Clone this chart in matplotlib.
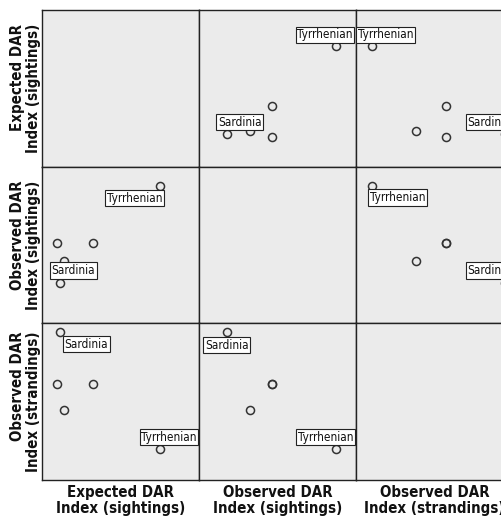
import matplotlib.pyplot as plt

# DAR index per region (only two regions carry a case label)
case_labels = ["Sardinia", "Tyrrhenian", "", "", ""]
expected_sightings = [1.17, 7.52, 0.97, 3.22, 1.42]
observed_sightings = [1.76, 8.73, 4.63, 4.63, 3.28]
observed_strandings = [9.46, 1.04, 5.71, 5.71, 3.85]

var_names = [
    "Expected DAR\nIndex (sightings)",
    "Observed DAR\nIndex (sightings)",
    "Observed DAR\nIndex (strandings)",
]
variables = [expected_sightings, observed_sightings, observed_strandings]

x_range = (0, 10)
y_range = (-1.18, 10.09)

# label box offset from its point in pixels, per panel (row, col)
label_offsets = {
    (0, 1): {"Tyrrhenian": (-11, 11), "Sardinia": (13, 12)},
    (0, 2): {"Tyrrhenian": (13.5, 11), "Sardinia": (-15.5, 12)},
    (1, 0): {"Tyrrhenian": (-25.5, -12.5), "Sardinia": (13, 12)},
    (1, 2): {"Tyrrhenian": (25, -12), "Sardinia": (-15.5, 12)},
    (2, 0): {"Sardinia": (26, -12), "Tyrrhenian": (9, 12)},
    (2, 1): {"Sardinia": (0, -13), "Tyrrhenian": (-10.5, 12)},
}

W, H = 502, 516
fig = plt.figure(figsize=(W / 100, H / 100), dpi=100)

col_left = [42, 199, 356]
row_top = [10, 166.7, 323.3]
pw, ph = 157, 156.7

title_font = dict(family="DejaVu Sans", stretch="condensed", weight="bold", size=10.8)

for r in range(3):
    for c in range(3):
        ax = fig.add_axes([col_left[c] / W, 1 - (row_top[r] + ph) / H, pw / W, ph / H])
        ax.set_facecolor("#ebebeb")
        for s in ax.spines.values():
            s.set_color("#222222")
            s.set_linewidth(1.0)
        ax.set_xticks([])
        ax.set_yticks([])
        ax.set_xlim(*x_range)
        ax.set_ylim(*y_range)
        if r == c:
            continue
        xs, ys = variables[c], variables[r]
        ax.plot(xs, ys, linestyle="none", marker="o", markersize=5.8,
                markerfacecolor="none", markeredgecolor="#333333",
                markeredgewidth=1.1)
        for lab, x, y in zip(case_labels, xs, ys):
            if not lab:
                continue
            dx, dy = label_offsets[(r, c)][lab]
            ax.annotate(lab, (x, y), xytext=(dx, dy), textcoords="offset pixels",
                        ha="center", va="center", fontsize=8.5, fontstretch="condensed",
                        color="#111111", zorder=5,
                        bbox=dict(boxstyle="square,pad=0.14", facecolor="white",
                                  edgecolor="#222222", linewidth=0.8))

for i, name in enumerate(var_names):
    fig.text((col_left[i] + pw / 2) / W, 1 - 485 / H, name, ha="center", va="top",
             linespacing=1.05, color="#111111", **title_font)
    fig.text(41 / W, 1 - (row_top[i] + ph / 2) / H, name, ha="right", va="center",
             rotation=90, linespacing=1.05, color="#111111", **title_font)

fig.savefig("out.png", dpi=100)
